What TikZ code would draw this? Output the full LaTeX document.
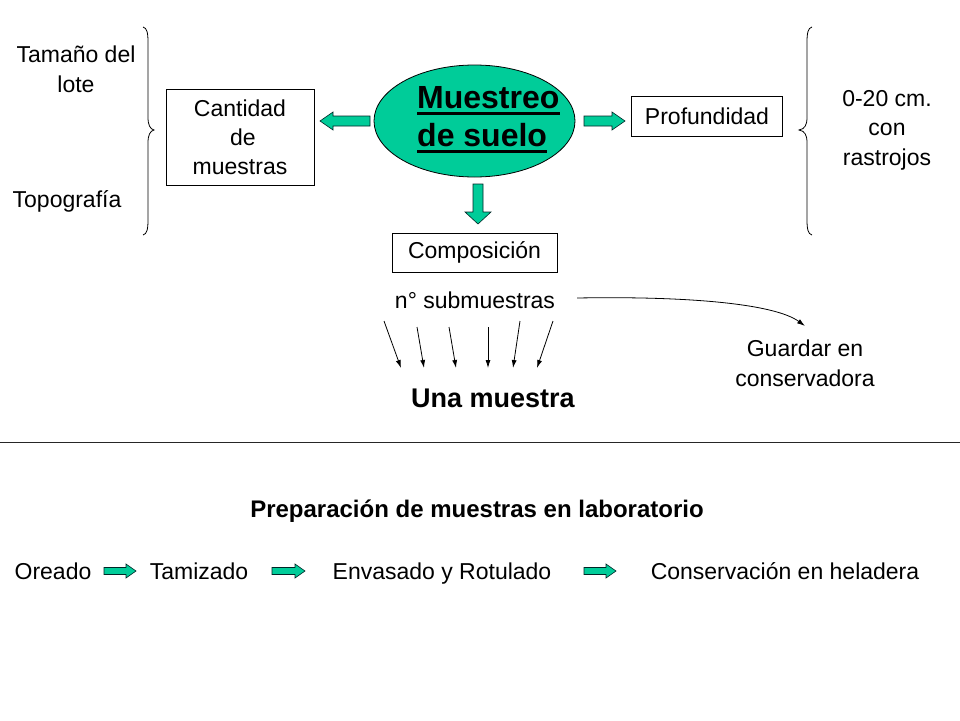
\documentclass[tikz,border=0pt]{standalone}
\usepackage{fontspec}
\setmainfont{Liberation Sans}
\usetikzlibrary{shapes.geometric,arrows.meta}
\newcommand{\garR}[3]{% right-pointing block arrow: x tail, x tip, y
  \draw[greenarrow] (#1,{#3-3.5}) -- ({#2-10},{#3-3.5}) -- ({#2-10},{#3-7}) -- (#2,#3) -- ({#2-10},{#3+7}) -- ({#2-10},{#3+3.5}) -- (#1,{#3+3.5}) -- cycle;}
\tikzset{
  txt/.style={font=\fontsize{23}{30}\selectfont, align=center, inner sep=0pt},
  basetxt/.style={txt, anchor=base},
  boxed/.style={draw, line width=0.8pt, inner sep=0pt, font=\fontsize{23}{29}\selectfont, align=center},
  greenarrow/.style={draw=black!70!teal, line width=0.6pt, fill=greenfill},
  thinarrow/.style={line width=0.8pt, -{Latex[length=8pt,width=5pt]}},
  titletxt/.style={inner sep=0pt, anchor=base west, font=\fontsize{32}{38}\selectfont\bfseries},
  uline/.style={line width=2.6pt},
}
\definecolor{greenfill}{RGB}{0,204,153}
\begin{document}
\begin{tikzpicture}[x=1pt,y=-1pt]
\useasboundingbox (0,0) rectangle (960,720);
\fill[white] (0,0) rectangle (960,720);

% left group
\node[txt] (tam) at (76,69) {Tamaño del\\lote};
\node[basetxt] (topo) at (67,207) {Topografía};
\draw[line width=0.8pt] (143,27) .. controls (147,28) and (148,33) .. (148,42) -- (148,117)
  .. controls (148,125) and (150,129) .. (154,130) .. controls (150,131) and (148,135) .. (148,143)
  -- (148,220) .. controls (148,229) and (147,234) .. (143,235);
\node[boxed, minimum width=148, minimum height=96] (cant) at (240,137) {Cantidad\\\hspace*{6pt}de\\muestras};

% center ellipse
\node[ellipse, draw, line width=0.8pt, fill=greenfill, minimum width=201, minimum height=112, inner sep=0pt] (ell) at (474.5,121) {};
\node[titletxt] (mue1) at (417,108) {Muestreo};
\node[titletxt] (mue2) at (417,146) {de suelo};
\draw[uline] ([yshift=-5.5pt]mue1.base west) -- ([yshift=-5.5pt]mue1.base east);
\draw[uline] ([yshift=-5.5pt]mue2.base west) -- ([yshift=-5.5pt]mue2.base east);

% block arrows from ellipse
\draw[greenarrow] (370,116) -- (333,116) -- (333,112) -- (320,121) -- (333,130) -- (333,126) -- (370,126) -- cycle;
\draw[greenarrow] (584,116) -- (612,116) -- (612,112) -- (625,121) -- (612,130) -- (612,126) -- (584,126) -- cycle;
\draw[greenarrow] (473,184) -- (473,212) -- (465,212) -- (478,224) -- (491,212) -- (483,212) -- (483,184) -- cycle;

% right group
\node[boxed, minimum width=151, minimum height=40] (prof) at (707,116) {Profundidad};
\draw[line width=0.8pt] (812,27) .. controls (808,28) and (807,33) .. (807,42) -- (807,117)
  .. controls (807,125) and (805,129) .. (799,130) .. controls (805,131) and (807,135) .. (807,143)
  -- (807,220) .. controls (807,229) and (808,234) .. (812,235);
\node[txt, font=\fontsize{23}{29.5}\selectfont] (cm) at (887,130) {0-20 cm.\\con\\rastrojos};

% composicion
\node[boxed, minimum width=165, minimum height=39] (comp) at (474.5,252.5) {Composición};
\node[txt] (sub) at (475,300) {n° submuestras};
\node[txt] (guar) at (805,363) {Guardar en\\conservadora};
\node[txt, font=\fontsize{27}{32}\selectfont\bfseries] (una) at (493,398) {Una muestra};

\coordinate (c0) at (577,298);
\coordinate (c1) at (805,326);
\draw[thinarrow] (c0) .. controls (690,296) and (775,304) .. (c1);

\coordinate (a1) at (384,321); \coordinate (b1) at (401,368);
\coordinate (a2) at (417,327); \coordinate (b2) at (424,368);
\coordinate (a3) at (449,327); \coordinate (b3) at (456,368);
\coordinate (a4) at (488,327); \coordinate (b4) at (488,368);
\coordinate (a5) at (520,321); \coordinate (b5) at (513,368);
\coordinate (a6) at (553,321); \coordinate (b6) at (537,368);
\foreach \i in {1,...,6} {\draw[thinarrow] (a\i) -- (b\i);}

% separator
\draw[line width=0.8pt, black!85] (0,442) -- (960,442);

% bottom
\node[inner sep=0pt, anchor=base, font=\fontsize{24}{28}\selectfont\bfseries] (prep) at (477,517) {Preparación de muestras en laboratorio};
\node[basetxt] (ore) at (53,579) {Oreado};
\node[basetxt] (tam2) at (199,579) {Tamizado};
\node[basetxt] (env) at (442,579) {Envasado y Rotulado};
\node[basetxt] (cons) at (785,579) {Conservación en heladera};
\garR{104}{136}{571}
\garR{272}{305}{571}
\garR{584}{616}{571}
\end{tikzpicture}
\end{document}
